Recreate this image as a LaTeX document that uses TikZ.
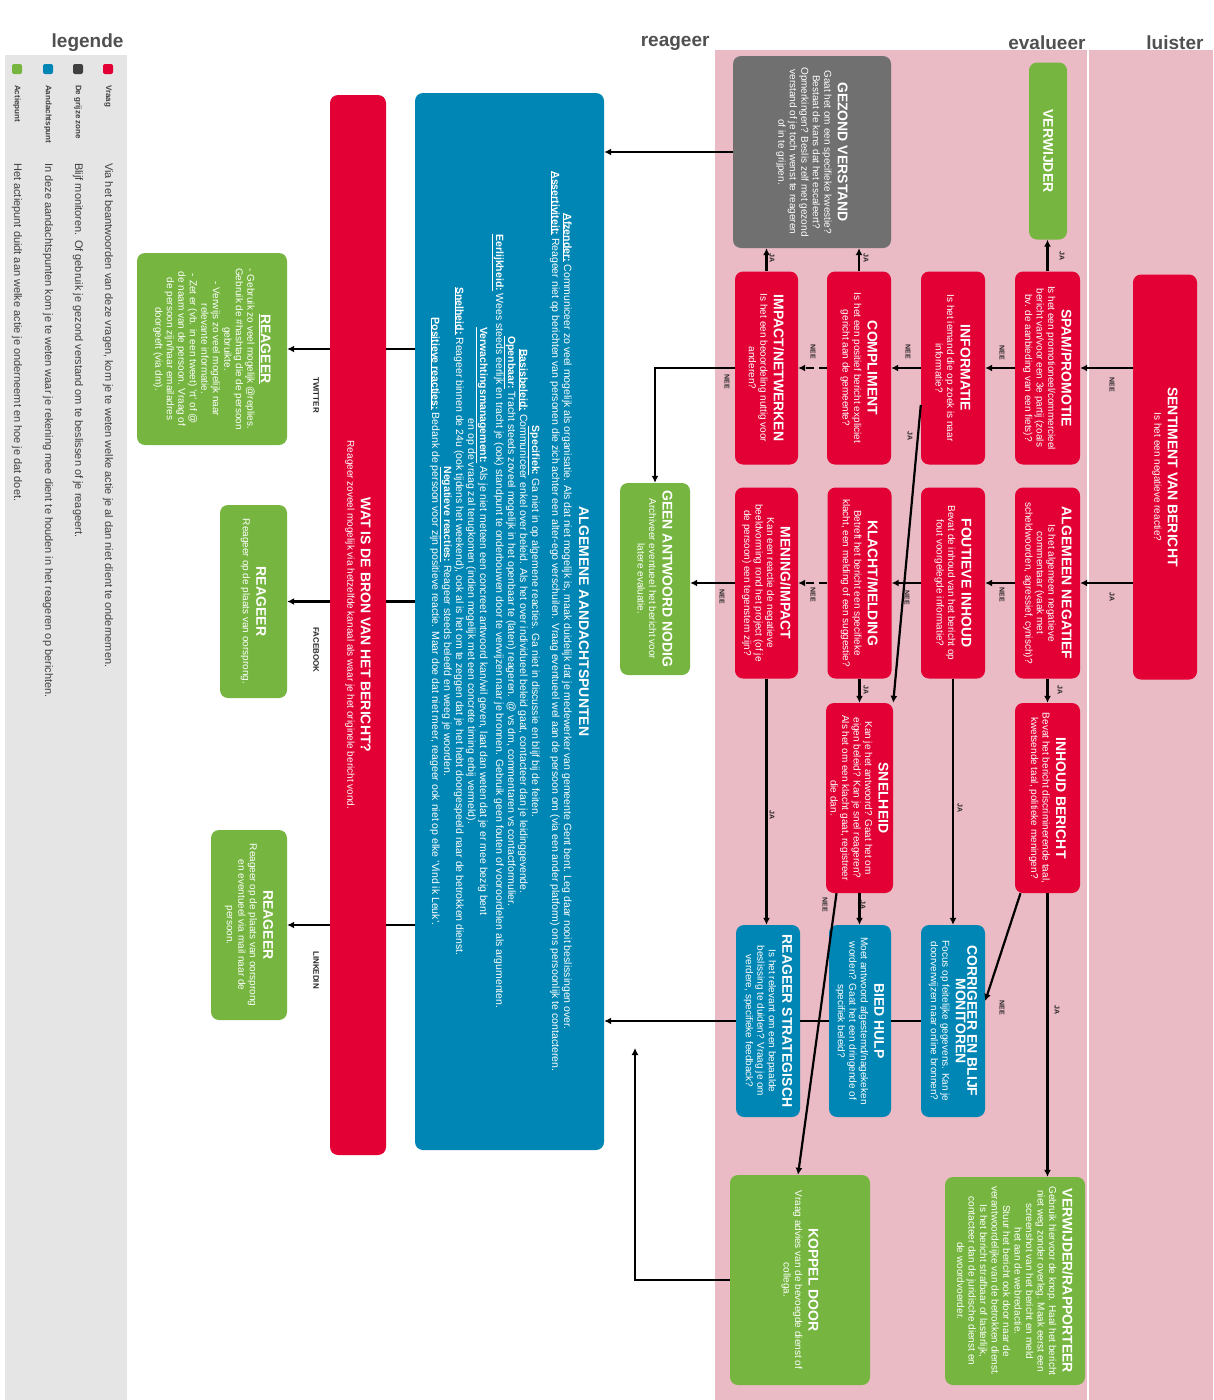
\documentclass[tikz,border=0pt]{standalone}
\usepackage{fontspec}
\setmainfont{Liberation Sans}
\usetikzlibrary{arrows.meta, positioning}

\definecolor{rood}{RGB}{226,0,52}
\definecolor{blauw}{RGB}{0,134,180}
\definecolor{groen}{RGB}{118,182,64}
\definecolor{grijs}{RGB}{112,112,112}
\definecolor{roze}{RGB}{234,186,197}
\definecolor{legendegrijs}{RGB}{229,229,229}
\definecolor{kopgrijs}{RGB}{80,80,80}

\newcommand\hd[1]{{\normalfont\bfseries\fontsize{14}{16}\selectfont #1}}
\newcommand\ul[1]{\underline{\textbf{#1}}}

\begin{document}
\begin{tikzpicture}
  [x=1pt, y=-1pt,
   box/.style={rounded corners=8pt, rotate=-90, align=center, text=white, inner sep=3pt,
               font=\fontsize{10}{11.5}\selectfont},
   sz/.style 2 args={minimum width=#1, minimum height=#2},
   vraag/.style={box, fill=rood},
   punt/.style={box, fill=blauw},
   actie/.style={box, fill=groen},
   zone/.style={box, fill=grijs},
   arr/.style={line width=2.2pt, -{Latex[length=7pt, width=7pt]}},
   lijn/.style={line width=2.2pt},
   lab/.style={rotate=-90, text=black!85, font=\bfseries\fontsize{7}{8}\selectfont},
   kop/.style={anchor=east, text=kopgrijs, font=\bfseries\fontsize{19}{20}\selectfont},
   legtxt/.style={rotate=-90, anchor=west, text=black!75, inner sep=0pt,
                  font=\fontsize{11}{12}\selectfont}]
  \useasboundingbox (0,0) rectangle (1213,1400);
  \fill[white] (0,0) rectangle (1213,1400);
  \fill[legendegrijs] (5,55) rectangle (127,1400);
  \fill[roze] (715,50) rectangle (1213,1400);
  \draw[white, line width=2pt] (1088,50) -- (1088,1400);

  \node[kop] (hleg) at (127,43) {legende};
  \node[kop] (hrea) at (713,43) {reageer};
  \node[kop] (heva) at (1089,43) {evalueer};
  \node[kop] (hlui) at (1207,43) {luister};

  \foreach \i/\x/\c/\n/\t in {
    1/108/rood/Vraag/{Via het beantwoorden van deze vragen, kom je te weten welke actie je al dan niet dient te ondernemen.},
    2/78/black!75/{De grijze zone}/{Blijf monitoren. Of gebruik je gezond verstand om te beslissen of je reageert.},
    3/48/blauw/Aandachtspunt/{In deze aandachtspunten kom je te weten waar je rekening mee dient te houden in het reageren op berichten.},
    4/17/groen/Actiepunt/{Het actiepunt duidt aan welke actie je onderneemt en hoe je dat doet.}}{
    \node[fill=\c, rounded corners=2pt, minimum size=10pt, inner sep=0pt] (leg\i) at (\x,69) {};
    \node[legtxt, font=\bfseries\fontsize{8}{9}\selectfont] (legn\i) at (\x,85) {\n};
    \node[legtxt] (legt\i) at (\x,163) {\t};
  }

  \node[vraag, sz={405}{64}] (sent) at (1165,477) {\hd{SENTIMENT VAN BERICHT}\\[2pt]Is het een negatieve reactie?};

  \node[actie, sz={177}{38}] (verw) at (1048,151) {\hd{VERWIJDER}};
  \node[vraag, sz={193}{65}] (spam) at (1047.5,368) {\hd{SPAM/PROMOTIE}\\[2pt]Is het een promotioneel/commercieel\\bericht van/voor een 3e partij (zoals\\bv. de aanbieding van een fiets)?};
  \node[vraag, sz={191}{65}] (algneg) at (1047.5,583) {\hd{ALGEMEEN NEGATIEF}\\[2pt]Is het algemeen negatieve\\commentaar (vaak met\\scheldwoorden, agressief, cynisch)?};
  \node[vraag, sz={190}{65}] (inhoud) at (1047.5,798) {\hd{INHOUD BERICHT}\\[2pt]Bevat het bericht discriminerende taal,\\kwetsende taal, politieke meningen?};
  \node[actie, sz={208}{140}] (vr) at (1015,1281) {\hd{VERWIJDER/RAPPORTEER}\\[2pt]Gebruik hiervoor de knop. Haal het bericht\\niet weg zonder overleg. Maak eerst een\\screenshot van het bericht en meld\\het aan de webredactie.\\Stuur het bericht ook door naar de\\verantwoordelijke van de betrokken dienst.\\Is het bericht strafbaar of lasterlijk,\\contacteer dan de juridische dienst en\\de woordvoerder.};

  \node[vraag, sz={193}{64}] (info) at (953,368) {\hd{INFORMATIE}\\[2pt]Is het iemand die op zoek is naar\\informatie?};
  \node[vraag, sz={191}{64}] (fout) at (953,583) {\hd{FOUTIEVE INHOUD}\\[2pt]Bevat de inhoud van het bericht op\\fout voorgelegde informatie?};
  \node[punt, sz={192}{64}] (corr) at (953,1021) {\hd{CORRIGEER EN BLIJF}\\\hd{MONITOREN}\\[2pt]Focus op feitelijke gegevens. Kan je\\doorverwijzen naar online bronnen?};

  \node[zone, sz={192}{158}] (gezond) at (812,152) {\hd{GEZOND VERSTAND}\\[2pt]Gaat het om een specifieke kwestie?\\Bestaat de kans dat het escaleert?\\Opmerkingen? Beslis zelf met gezond\\verstand of je toch wenst te reageren\\of in te grijpen.};
  \node[vraag, sz={193}{64}] (compl) at (859,368) {\hd{COMPLIMENT}\\[2pt]Is het een positief bericht expliciet\\gericht aan de gemeente?};
  \node[vraag, sz={191}{64}] (klacht) at (859.5,583) {\hd{KLACHT/MELDING}\\[2pt]Betreft het bericht een specifieke\\klacht, een melding of een suggestie?};
  \node[vraag, sz={190}{67}] (snel) at (859.5,798) {\hd{SNELHEID}\\[2pt]Kan je het antwoord? Gaat het om\\eigen beleid? Kan je snel reageren?\\Als het om een klacht gaat, registreer\\die dan.};
  \node[punt, sz={192}{62}] (hulp) at (860,1021) {\hd{BIED HULP}\\[2pt]Moet antwoord afgestemd/nagekeken\\worden? Gaat het een dringende of\\specifiek beleid?};

  \node[vraag, sz={193}{63}] (impact) at (766.5,368) {\hd{IMPACT/NETWERKEN}\\[2pt]Is het een beoordeling nuttig voor\\anderen?};
  \node[vraag, sz={191}{63}] (mening) at (766.5,583) {\hd{MENING/IMPACT}\\[2pt]Kan een reactie de negatieve\\beeldvorming rond het project (of je\\de persoon) een tegenstem zijn?};
  \node[punt, sz={192}{64}] (strat) at (768,1021) {\hd{REAGEER STRATEGISCH}\\[2pt]Is het relevant om een bepaalde\\beslissing te duiden? Vraag je om\\verdere, specifieke feedback?};
  \node[actie, sz={210}{140}] (koppel) at (800,1280) {\hd{KOPPEL DOOR}\\[2pt]Vraag advies van de bevoegde dienst of\\collega.};

  \node[actie, sz={192}{70}] (geen) at (655,579) {\hd{GEEN ANTWOORD NODIG}\\[2pt]Archiveer eventueel het bericht voor\\latere evaluatie.};
  \node[punt, sz={1057}{189}, font=\fontsize{10.5}{12}\selectfont] (alg) at (509.5,621.5) {\hd{ALGEMENE AANDACHTSPUNTEN}\\[3pt]
    \ul{Afzender:} Communiceer zo veel mogelijk als organisatie. Als dat niet mogelijk is, maak duidelijk dat je medewerker van gemeente Gent bent. Leg daar nooit beslissingen over.\\
    \ul{Assertiviteit:} Reageer niet op berichten van personen die zich achter een alter-ego verschuilen. Vraag eventueel wel aan de persoon om (via een ander platform) ons persoonlijk te contacteren.\\[8pt]
    \ul{Specifiek:} Ga niet in op algemene reacties. Ga niet in discussie en blijf bij de feiten.\\
    \ul{Basisbeleid:} Communiceer enkel over beleid. Als het over individueel beleid gaat, contacteer dan je leidinggevende.\\
    \ul{Openbaar:} Tracht steeds zoveel mogelijk in het openbaar te (laten) reageren. @ vs dm, commentaren vs contactformulier.\\
    \ul{Eerlijkheid:} Wees steeds eerlijk en tracht je (ook) standpunt te onderbouwen door te verwijzen naar je bronnen. Gebruik geen fouten of vooroordelen als argumenten.\\[4pt]
    \ul{Verwachtingsmanagement:} Als je niet meteen een concreet antwoord kan/wil geven, laat dan weten dat je er mee bezig bent\\
    en op de vraag zal terugkomen (indien mogelijk met een concrete timing erbij vermeld).\\
    \ul{Snelheid:} Reageer binnen de 24u (ook tijdens het weekend), ook al is het om te zeggen dat je het hebt doorgespeeld naar de betrokken dienst.\\
    \ul{Negatieve reacties:} Reageer steeds beleefd en weeg je woorden.\\
    \ul{Positieve reacties:} Bedank de persoon voor zijn positieve reactie. Maar doe dat niet meer, reageer ook niet op elke 'Vind ik Leuk'.};
  \node[vraag, sz={1060}{56}] (bron) at (358,625) {\hd{WAT IS DE BRON VAN HET BERICHT?}\\[2pt]Reageer zoveel mogelijk via hetzelfde kanaal als waar je het originele bericht vond.};
  \node[actie, sz={192}{150}] (rtw) at (212,349) {\hd{\underline{REAGEER}}\\[2pt]- Gebruik zo veel mogelijk @replies.\\Gebruik de \#hashtag die de persoon\\gebruikte.\\- Verwijs zo veel mogelijk naar\\relevante informatie.\\- Zet er (vb. in een tweet) 'rt' of @\\de naam van de persoon. Vraag of\\de persoon zijn/haar emailadres\\doorgeeft (via dm).};
  \node[actie, sz={193}{67}] (rfb) at (253.5,601.5) {\hd{REAGEER}\\[2pt]Reageer op de plaats van oorsprong.};
  \node[actie, sz={190}{76}] (rli) at (249,925) {\hd{REAGEER}\\[2pt]Reageer op de plaats van oorsprong\\en eventueel via mail naar de\\persoon.};

  \draw[arr] (sent.south |- spam) -- (spam.north);
  \draw[arr] (sent.south |- algneg) -- (algneg.north);
  \draw[arr] (spam.south) -- (info.north);
  \draw[arr] (info.south) -- (compl.north);
  \draw[arr, dash pattern=on 8pt off 5pt] (compl.south) -- (impact.north);
  \draw[arr] (impact.south) -| (geen.west);
  \draw[arr] (algneg.south) -- (fout.north);
  \draw[arr] (fout.south) -- (klacht.north);
  \draw[arr, dash pattern=on 8pt off 5pt] (klacht.south) -- (mening.north);
  \draw[arr] (mening.south) -- (mening.south -| geen.north);

  \draw[arr] (spam.west) -- (spam.west |- verw.east);
  \draw[arr] (compl.west) -- (compl.west |- gezond.east);
  \draw[arr] (impact.west) -- (impact.west |- gezond.east);
  \draw[arr] (algneg.east) -- (algneg.east |- inhoud.west);
  \draw[arr] (klacht.east) -- (klacht.east |- snel.west);
  \draw[arr] (fout.east) -- (fout.east |- corr.west);
  \draw[arr] (mening.east) -- (mening.east |- strat.west);
  \draw[arr] (inhoud.east) -- (inhoud.east |- vr.west);
  \draw[arr] (snel.east) -- (snel.east |- hulp.west);

  \draw[arr] ([yshift=-37pt]info.south) -- (snel.north west);
  \draw[arr] ([xshift=-27pt]inhoud.east) -- ([yshift=20pt]corr.north);
  \draw[arr] ([xshift=-23pt]snel.east) -- ([xshift=-2pt]koppel.west);

  \draw[lijn] (corr.south) -- (corr.south -| hulp.north);
  \draw[lijn] (hulp.south |- corr.south) -- (corr.south -| strat.north);
  \draw[arr] (strat.south |- corr.south) -- (corr.south -| alg.north);
  \coordinate (kp) at (635,1048);
  \draw[arr] (koppel.south) -| (kp);
  \draw[arr] (gezond.south) -- (gezond.south -| alg.north);

  \foreach \r in {rtw, rfb, rli}{
    \draw[lijn] (alg.south |- \r) -- (bron.north |- \r);
    \draw[arr] (bron.south |- \r) -- (\r.north);
  }

  \foreach \t/\x/\y [count=\i] in {NEE/1112/385, JA/1112/597, JA/1062/256, NEE/1002/353,
      NEE/908/352, NEE/813/352, NEE/727/382, JA/866/258, JA/772/258, JA/910/436,
      NEE/1002/595, NEE/907/598, NEE/813/595, NEE/722/597, JA/1060/690, JA/866/690,
      JA/960/808, JA/772/815, JA/1057/1010, NEE/1002/1008, JA/863/905, NEE/825/905}
    \node[lab] (lab\i) at (\x,\y) {\t};
  \node[lab, font=\bfseries\fontsize{8}{9}\selectfont] (ltw) at (316,395) {TWITTER};
  \node[lab, font=\bfseries\fontsize{8}{9}\selectfont] (lfb) at (316,650) {FACEBOOK};
  \node[lab, font=\bfseries\fontsize{8}{9}\selectfont] (lli) at (316,970) {LINKEDIN};
\end{tikzpicture}
\end{document}
